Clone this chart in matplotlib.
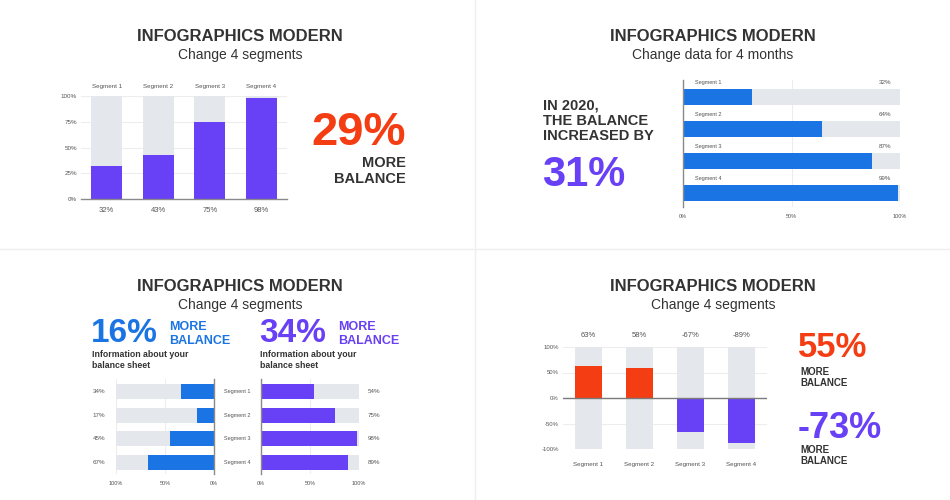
import matplotlib.pyplot as plt
from matplotlib.lines import Line2D

plt.rcParams['font.family'] = ['Liberation Sans', 'DejaVu Sans']

W, H = 950, 500

PURPLE = "#6840F5"
BLUE = "#1B74E4"
RED = "#F43D12"
TRACK = "#E4E7EC"
DARK = "#333333"
LABEL = "#555555"
GRID = "#EDEDED"
AXIS = "#8A8A8A"

# data
segments = ["Segment 1", "Segment 2", "Segment 3", "Segment 4"]
q1_values = [32, 43, 75, 98]
q2_values = [32, 64, 87, 99]
q3_left_values = [34, 17, 45, 67]
q3_right_values = [54, 75, 98, 89]
q4_values = [63, 58, -67, -89]

title = "INFOGRAPHICS MODERN"
subtitles = ["Change 4 segments", "Change data for 4 months",
             "Change 4 segments", "Change 4 segments"]
q1_headline = "29%"
q2_headline = "31%"
q2_lines = ["IN 2020,", "THE BALANCE", "INCREASED BY"]
q3_headlines = ["16%", "34%"]
q4_headlines = ["55%", "-73%"]

fig = plt.figure(figsize=(W / 100, H / 100), dpi=100)
fig.patch.set_facecolor("white")


def px_axes(x0, y0, x1, y1):
    # axes from pixel box (top-left origin)
    return fig.add_axes([x0 / W, 1 - y1 / H, (x1 - x0) / W, (y1 - y0) / H])


def px_text(x, y, s, **kw):
    kw.setdefault("va", "baseline")
    return fig.text(x / W, 1 - y / H, s, **kw)


def pct(v):
    return f"{v}%"


def clean(ax, keep=()):
    for side in ["top", "right", "left", "bottom"]:
        if side in keep:
            ax.spines[side].set_color(AXIS)
            ax.spines[side].set_linewidth(1)
        else:
            ax.spines[side].set_visible(False)
    ax.set_facecolor("none")


# quadrant dividers
fig.add_artist(Line2D([475 / W, 475 / W], [0, 1], color="#EFEFEF", lw=1))
fig.add_artist(Line2D([0, 1], [1 - 249 / H, 1 - 249 / H], color="#EFEFEF", lw=1))

# titles
for cx, base, sub in [(240, 41, subtitles[0]), (713, 41, subtitles[1]),
                      (240, 291, subtitles[2]), (713, 291, subtitles[3])]:
    px_text(cx, base, title, ha="center", fontsize=12, fontweight="bold", color=DARK)
    px_text(cx, base + 17.5, sub, ha="center", fontsize=10, color=DARK)

# ---------- quadrant 1: vertical progress columns ----------
ax = px_axes(81, 96, 287, 199)
x = list(range(len(segments)))
ax.bar(x, [100] * 4, width=0.6, color=TRACK, zorder=1)
ax.bar(x, q1_values, width=0.6, color=PURPLE, zorder=2)
ax.set_xlim(-0.5, 3.5)
ax.set_ylim(0, 100)
ax.set_yticks([0, 25, 50, 75, 100])
ax.set_yticklabels([pct(v) for v in [0, 25, 50, 75, 100]])
ax.set_xticks([])
ax.yaxis.grid(True, color=GRID, lw=0.8)
ax.set_axisbelow(True)
ax.tick_params(axis="y", length=0, pad=3, labelsize=4.5, labelcolor=LABEL)
clean(ax, keep=("bottom",))
for i, (seg, v) in enumerate(zip(segments, q1_values)):
    ax.annotate(seg, (i, 1), xycoords=("data", "axes fraction"), xytext=(0, 7),
                textcoords="offset points", ha="center", va="center",
                fontsize=4.5, color=LABEL)
    ax.annotate(pct(v), (i, 0), xycoords=("data", "axes fraction"), xytext=(0, -8),
                textcoords="offset points", ha="center", va="center",
                fontsize=5.5, color=LABEL)

px_text(311, 145, q1_headline, ha="left", fontsize=34, fontweight="bold", color=RED)
px_text(406, 167, "MORE", ha="right", fontsize=10.5, fontweight="bold", color=DARK)
px_text(406, 183, "BALANCE", ha="right", fontsize=10.5, fontweight="bold", color=DARK)

# ---------- quadrant 2: horizontal progress bars ----------
ax = px_axes(683, 80, 900, 207)
y = list(range(len(segments)))
ax.barh(y, [100] * 4, height=0.5, color=TRACK, zorder=1)
ax.barh(y, q2_values, height=0.5, color=BLUE, zorder=2)
ax.set_xlim(0, 100)
ax.set_ylim(3.44, -0.53)
ax.set_xticks([0, 50, 100])
ax.set_xticklabels([pct(v) for v in [0, 50, 100]])
ax.set_yticks([])
ax.xaxis.grid(True, color=GRID, lw=0.8)
ax.set_axisbelow(True)
ax.tick_params(axis="x", length=0, pad=5, labelsize=4, labelcolor=LABEL)
clean(ax, keep=("left",))
for i, (seg, v) in enumerate(zip(segments, q2_values)):
    ax.text(5.5, i - 0.44, seg, ha="left", va="center", fontsize=4, color=LABEL)
    ax.text(96, i - 0.44, pct(v), ha="right", va="center", fontsize=4.5, color=LABEL)

for base, line in zip([109.5, 125, 140.5], q2_lines):
    px_text(543, base, line, ha="left", fontsize=10.5, fontweight="bold", color=DARK)
px_text(542, 186, q2_headline, ha="left", fontsize=30, fontweight="bold", color=PURPLE)

# ---------- quadrant 3: mirrored bars ----------
ax = px_axes(116, 379, 214, 474)
ax.barh(y, [100] * 4, height=0.64, color=TRACK, zorder=1)
ax.barh(y, q3_left_values, height=0.64, color=BLUE, zorder=2)
ax.set_xlim(100, 0)
ax.set_ylim(3.5, -0.53)
ax.set_xticks([100, 50, 0])
ax.set_xticklabels([pct(v) for v in [100, 50, 0]])
ax.set_yticks([])
ax.xaxis.grid(True, color=GRID, lw=0.8)
ax.set_axisbelow(True)
ax.tick_params(axis="x", length=0, pad=5, labelsize=4, labelcolor=LABEL)
clean(ax, keep=("right",))
for i, v in enumerate(q3_left_values):
    ax.text(124, i, pct(v), ha="left", va="center", fontsize=4.5, color=LABEL,
            clip_on=False)

ax = px_axes(261, 379, 359, 474)
ax.barh(y, [100] * 4, height=0.64, color=TRACK, zorder=1)
ax.barh(y, q3_right_values, height=0.64, color=PURPLE, zorder=2)
ax.set_xlim(0, 100)
ax.set_ylim(3.5, -0.53)
ax.set_xticks([0, 50, 100])
ax.set_xticklabels([pct(v) for v in [0, 50, 100]])
ax.set_yticks([])
ax.xaxis.grid(True, color=GRID, lw=0.8)
ax.set_axisbelow(True)
ax.tick_params(axis="x", length=0, pad=5, labelsize=4, labelcolor=LABEL)
clean(ax, keep=("left",))
for i, (seg, v) in enumerate(zip(segments, q3_right_values)):
    ax.text(-10.5, i, seg, ha="right", va="center", fontsize=4, color=LABEL, clip_on=False)
    ax.text(109, i, pct(v), ha="left", va="center", fontsize=4.5, color=LABEL, clip_on=False)

for x0, head, col, more_x in [(91, q3_headlines[0], BLUE, 169),
                              (259, q3_headlines[1], PURPLE, 338)]:
    px_text(x0, 342, head, ha="left", fontsize=24, fontweight="bold", color=col)
    px_text(more_x, 330, "MORE", ha="left", fontsize=9, fontweight="bold", color=col)
    px_text(more_x, 344, "BALANCE", ha="left", fontsize=9, fontweight="bold", color=col)
    px_text(x0 + 0.5, 357, "Information about your", ha="left", fontsize=6.3,
            fontweight="bold", color=DARK)
    px_text(x0 + 0.5, 368, "balance sheet", ha="left", fontsize=6.3,
            fontweight="bold", color=DARK)

# ---------- quadrant 4: positive / negative columns ----------
ax = px_axes(563, 347, 767, 449)
x = list(range(len(segments)))
ax.bar(x, [200] * 4, bottom=-100, width=0.51, color=TRACK, zorder=1)
ax.bar(x, q4_values, width=0.51, color=[RED if v > 0 else PURPLE for v in q4_values],
       zorder=2)
ax.axhline(0, color="#7A7A7A", lw=1, zorder=3)
ax.set_xlim(-0.5, 3.5)
ax.set_ylim(-100, 100)
ax.set_yticks([-100, -50, 0, 50, 100])
ax.set_yticklabels([pct(v) for v in [-100, -50, 0, 50, 100]])
ax.set_xticks([])
ax.yaxis.grid(True, color=GRID, lw=0.8)
ax.set_axisbelow(True)
ax.tick_params(axis="y", length=0, pad=3, labelsize=4.3, labelcolor=LABEL)
clean(ax)
for i, (seg, v) in enumerate(zip(segments, q4_values)):
    ax.annotate(pct(v), (i, 1), xycoords=("data", "axes fraction"), xytext=(0, 8.5),
                textcoords="offset points", ha="center", va="center",
                fontsize=5.5, color=LABEL)
    ax.annotate(seg, (i, 0), xycoords=("data", "axes fraction"), xytext=(0, -11.5),
                textcoords="offset points", ha="center", va="center",
                fontsize=4.5, color=LABEL)

px_text(798, 357, q4_headlines[0], ha="left", fontsize=25, fontweight="bold", color=RED)
px_text(800, 375, "MORE", ha="left", fontsize=7, fontweight="bold", color=DARK)
px_text(800, 386, "BALANCE", ha="left", fontsize=7, fontweight="bold", color=DARK)
px_text(798, 438, q4_headlines[1], ha="left", fontsize=26, fontweight="bold", color=PURPLE)
px_text(800, 453, "MORE", ha="left", fontsize=7, fontweight="bold", color=DARK)
px_text(800, 464, "BALANCE", ha="left", fontsize=7, fontweight="bold", color=DARK)

fig.savefig("out.png", dpi=100, facecolor="white")
